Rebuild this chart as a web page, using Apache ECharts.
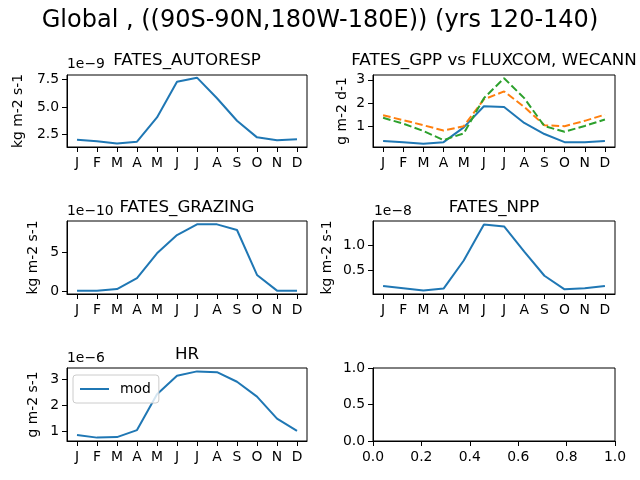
<!DOCTYPE html>
<html>
<head>
<meta charset="utf-8">
<script src="https://cdn.jsdelivr.net/npm/echarts@6/dist/echarts.min.js"></script>
<style>
  html, body { margin: 0; padding: 0; background: #fff; }
  #main { width: 640px; height: 480px; }
</style>
</head>
<body>
<div id="main"></div>
<script>
// months
var months = ["J", "F", "M", "A", "M", "J", "J", "A", "S", "O", "N", "D"];

// values shown in offset units (see the 1e-N labels)
var autorespVals = [2.05, 1.90, 1.70, 1.87, 4.06, 7.29, 7.65, 5.79, 3.76, 2.26, 1.99, 2.08];   // x1e-9
var gppMod = [0.36, 0.30, 0.24, 0.31, 0.95, 1.86, 1.83, 1.14, 0.66, 0.31, 0.31, 0.36];
var gppFluxcom = [1.47, 1.26, 1.04, 0.81, 1.00, 2.16, 2.50, 1.83, 1.04, 1.00, 1.23, 1.50];
var gppWecann = [1.36, 1.11, 0.79, 0.40, 0.69, 2.21, 3.07, 2.21, 1.00, 0.76, 1.01, 1.29];
var grazingVals = [0.10, 0.10, 0.30, 1.70, 4.87, 7.20, 8.56, 8.56, 7.84, 2.10, 0.10, 0.10];  // x1e-10
var nppVals = [0.18, 0.135, 0.09, 0.13, 0.70, 1.43, 1.39, 0.88, 0.39, 0.115, 0.135, 0.18];  // x1e-8
var hrVals = [0.85, 0.75, 0.77, 1.04, 2.42, 3.13, 3.30, 3.27, 2.90, 2.33, 1.48, 1.01];       // x1e-6

// tick labels of each y axis
var autorespTicks = [2.5, 5.0, 7.5];
var gppTicks = [1, 2, 3];
var grazingTicks = [0, 5];
var nppTicks = [0.5, 1.0];
var hrTicks = [1, 2, 3];

var FONT = "DejaVu Sans";
var C0 = "#1f77b4", C1 = "#ff7f0e", C2 = "#2ca02c";

var grids = [
    {left: 67, top: 75, width: 240, height: 72},
    {left: 373, top: 75, width: 242, height: 72},
    {left: 67, top: 221, width: 240, height: 73},
    {left: 373, top: 221, width: 242, height: 73},
    {left: 67, top: 368, width: 240, height: 73},
    {left: 373, top: 368, width: 242, height: 73}
];
grids.forEach(function (g) {
    g.show = true;
    g.borderColor = "#000";
    g.borderWidth = 1;
    g.backgroundColor = "#fff";
    g.containLabel = false;
});

var tickStyle = {show: true, length: 5, inside: false, lineStyle: {color: "#000", width: 1}};
var lineAxis = {show: true, onZero: false, lineStyle: {color: "#000", width: 1}};

function monthAxis(idx) {
    return {
        type: "category", gridIndex: idx, data: months, boundaryGap: true,
        axisLine: lineAxis,
        axisTick: {show: true, alignWithLabel: true, interval: 0, length: 5, lineStyle: {color: "#000", width: 1}},
        axisLabel: {interval: 0, margin: 9, color: "#000", fontFamily: FONT, fontSize: 13.9},
        splitLine: {show: false}
    };
}

function valAxis(idx, min, max, ticks, digits, name, gap) {
    return {
        type: "value", gridIndex: idx, min: min, max: max,
        name: name, nameLocation: "middle", nameGap: gap, nameRotate: 90,
        nameTextStyle: {color: "#000", fontFamily: FONT, fontSize: 13.9},
        axisLine: lineAxis,
        axisTick: {show: true, length: 5, customValues: ticks, lineStyle: {color: "#000", width: 1}},
        axisLabel: {
            customValues: ticks, margin: 8, color: "#000", fontFamily: FONT, fontSize: 13.9,
            formatter: function (v) { return v.toFixed(digits); }
        },
        splitLine: {show: false}
    };
}

function lineSeries(name, idx, data, color, dashed) {
    return {
        name: name, type: "line", xAxisIndex: idx, yAxisIndex: idx,
        data: data, symbol: "none", showSymbol: false,
        lineStyle: {color: color, width: 2, type: dashed ? [7.7, 3.3] : "solid"},
        itemStyle: {color: color},
        z: dashed ? 3 : 2
    };
}

function subTitle(text, x, top) {
    return {text: text, left: x, top: top, textAlign: "center", padding: 0,
        textStyle: {fontFamily: FONT, fontSize: 16.7, fontWeight: "normal", color: "#000"}};
}

function offsetText(text, x, top) {
    return {text: text, left: x, top: top, padding: 0,
        textStyle: {fontFamily: FONT, fontSize: 13.9, fontWeight: "normal", color: "#000"}};
}

var option = {
    animation: false,
    backgroundColor: "#fff",
    title: [
        {text: "Global , ((90S-90N,180W-180E)) (yrs 120-140)", left: "center", top: 9, padding: 0,
            textStyle: {fontFamily: FONT, fontSize: 24, fontWeight: "normal", color: "#000"}},
        subTitle("FATES_AUTORESP", 187, 52),
        subTitle("FATES_GPP vs FLUXCOM, WECANN", 494, 52),
        subTitle("FATES_GRAZING", 187, 199),
        subTitle("FATES_NPP", 494, 199),
        subTitle("HR", 187, 346),
        offsetText("1e\u22129", 67, 57),
        offsetText("1e\u221210", 67, 204),
        offsetText("1e\u22128", 374, 204),
        offsetText("1e\u22126", 67, 351)
    ],
    legend: {
        data: [{name: "mod", icon: "rect"}],
        left: 73, top: 375, orient: "vertical",
        itemWidth: 29, itemHeight: 2,
        padding: [7, 8, 7, 7],
        borderColor: "#cccccc", borderWidth: 1, borderRadius: 3,
        backgroundColor: "rgba(255,255,255,0.8)",
        textStyle: {fontFamily: FONT, fontSize: 13.9, color: "#000", padding: [0, 0, 0, 6]}
    },
    grid: grids,
    xAxis: [
        monthAxis(0), monthAxis(1), monthAxis(2), monthAxis(3), monthAxis(4),
        {
            type: "value", gridIndex: 5, min: 0, max: 1, interval: 0.2,
            axisLine: lineAxis, axisTick: tickStyle,
            axisLabel: {margin: 9, color: "#000", fontFamily: FONT, fontSize: 13.9,
                formatter: function (v) { return v.toFixed(1); }},
            splitLine: {show: false}
        }
    ],
    yAxis: [
        valAxis(0, 1.39, 7.89, autorespTicks, 1, "kg m-2 s-1", 42),
        valAxis(1, 0.10, 3.21, gppTicks, 0, "g m-2 d-1", 24),
        valAxis(2, -0.33, 8.99, grazingTicks, 0, "kg m-2 s-1", 27),
        valAxis(3, 0.02, 1.50, nppTicks, 1, "kg m-2 s-1", 39),
        valAxis(4, 0.62, 3.43, hrTicks, 0, "g m-2 s-1", 27),
        {
            type: "value", gridIndex: 5, min: 0, max: 1, interval: 0.5,
            axisLine: lineAxis, axisTick: tickStyle,
            axisLabel: {margin: 8, color: "#000", fontFamily: FONT, fontSize: 13.9,
                formatter: function (v) { return v.toFixed(1); }},
            splitLine: {show: false}
        }
    ],
    series: [
        lineSeries("autoresp", 0, autorespVals, C0, false),
        lineSeries("gpp mod", 1, gppMod, C0, false),
        lineSeries("FLUXCOM", 1, gppFluxcom, C1, true),
        lineSeries("WECANN", 1, gppWecann, C2, true),
        lineSeries("grazing", 2, grazingVals, C0, false),
        lineSeries("npp", 3, nppVals, C0, false),
        lineSeries("mod", 4, hrVals, C0, false)
    ]
};

var chart = echarts.init(document.getElementById("main"), null, {renderer: "canvas"});
chart.setOption(option);
</script>
</body>
</html>
